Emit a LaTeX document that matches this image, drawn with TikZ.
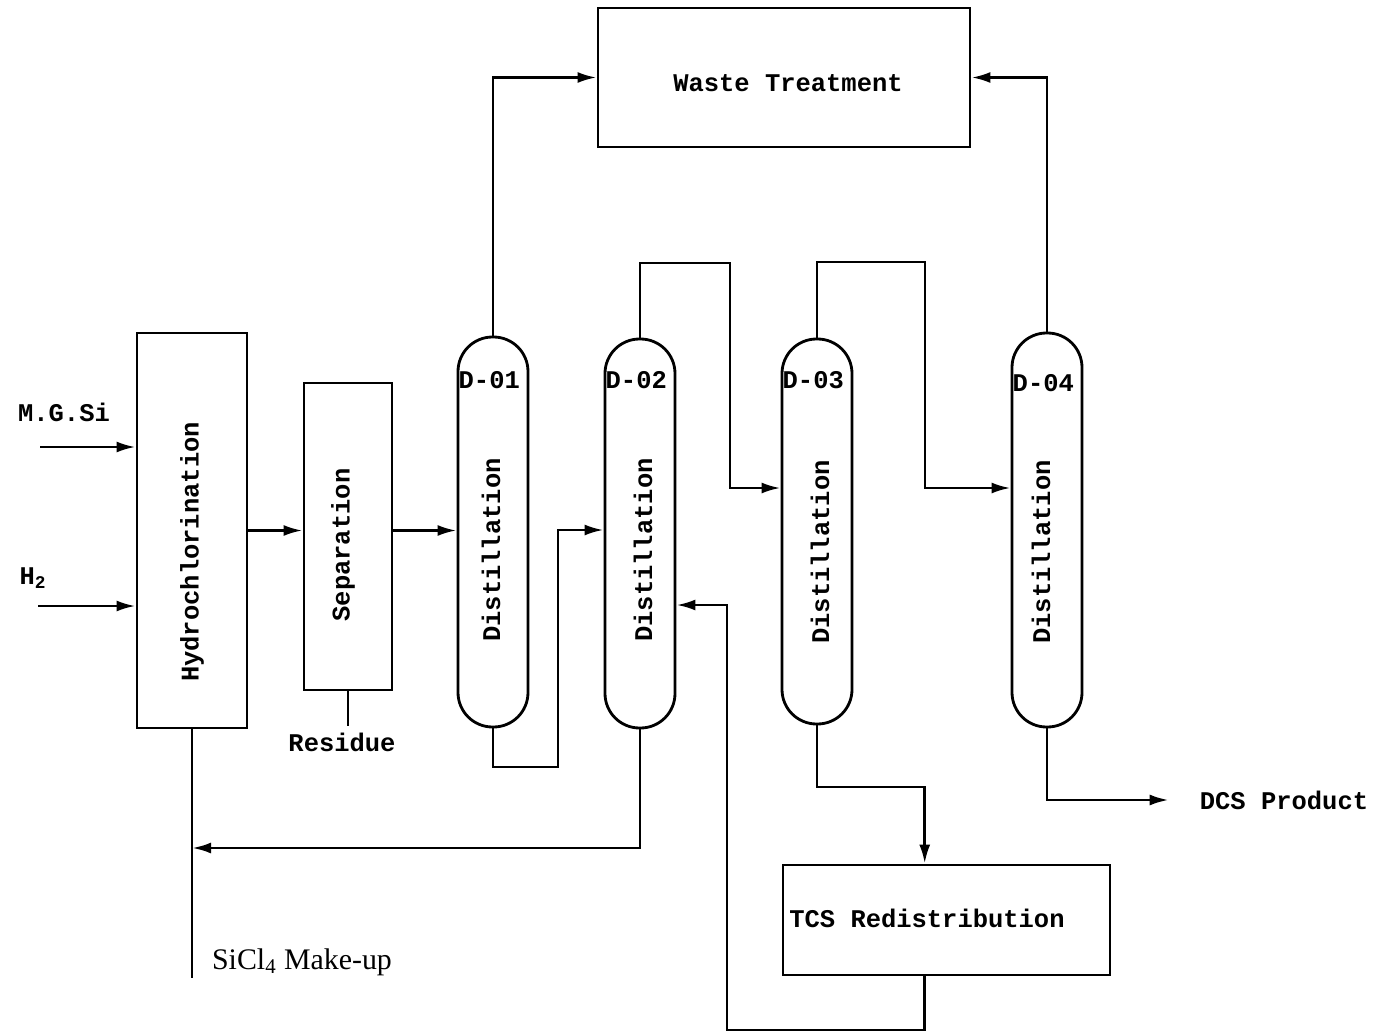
\documentclass[tikz,border=0pt]{standalone}
\usepackage{fontspec}
\setmainfont{Liberation Serif}
\setmonofont{Liberation Mono}
\usetikzlibrary{positioning, arrows.meta, calc}

\begin{document}
\begin{tikzpicture}[x=0.2mm, y=-0.2mm,
        every node/.style={font=\ttfamily\bfseries\fontsize{14.5}{17}\selectfont},
        unit/.style={rectangle, draw, line width=1.6pt, inner sep=0pt},
        column/.style={rectangle, draw, line width=1.6pt, inner sep=0pt,
          rounded corners=6.9mm, minimum width=14mm},
        vtext/.style={rotate=90},
        pipe/.style={line width=1.6pt},
        arr/.style={pipe, -{Latex[length=3.8mm, width=2.2mm]}}]

      \useasboundingbox (0,0) rectangle (1374,1035);

      % process units
      \node[unit, minimum width=74.4mm, minimum height=27.8mm] (waste) at (784,77.5) {};
      \node at (788,83) (wastetxt) {Waste Treatment};
      \node[unit, minimum width=22mm, minimum height=79mm] (hydro) at (192,530.5) {};
      \node[vtext] at (192,552) (hydrotxt) {Hydrochlorination};
      \node[unit, minimum width=17.6mm, minimum height=61.4mm] (sep) at (348,536.5) {};
      \node[vtext] at (343,545) (septxt) {Separation};
      \node[unit, minimum width=65.4mm, minimum height=22mm] (tcs) at (946.5,920) {};
      \node[anchor=west, inner sep=0pt] at (789,918) (tcstxt) {TCS Redistribution};

      % distillation columns
      \node[column, minimum height=78mm] (d1) at (493,532) {};
      \node[column, minimum height=77.8mm] (d2) at (640,533.5) {};
      \node[column, minimum height=77mm] (d3) at (817,531.5) {};
      \node[column, minimum height=78.8mm] (d4) at (1047,530) {};
      \node[anchor=west, inner sep=1pt] at (d1.west |- 0,380) (d1lab) {D-01};
      \node[anchor=west, inner sep=1pt] at (d2.west |- 0,380) (d2lab) {D-02};
      \node[anchor=west, inner sep=1pt] at (d3.west |- 0,380) (d3lab) {D-03};
      \node[anchor=west, inner sep=1pt] at (d4.west |- 0,383) (d4lab) {D-04};
      \node[vtext] at (491,550) (d1txt) {Distillation};
      \node[vtext] at (643,550) (d2txt) {Distillation};
      \node[vtext] at (820,552) (d3txt) {Distillation};
      \node[vtext] at (1041,552) (d4txt) {Distillation};

      % feeds and products
      \node at (64,412) (mgsi) {M.G.Si};
      \node at (33,578) (h2) {H\textsubscript{2}};
      \node at (342,742) (residue) {Residue};
      \node at (1284,800) (dcs) {DCS Product};
      \node[anchor=west, inner sep=1pt, font=\rmfamily\fontsize{17}{19}\selectfont]
        at (210,962) (mkup) {SiCl\textsubscript{4} Make-up};
      \coordinate (mgin) at (40,447);
      \coordinate (h2in) at (38,606);
      \coordinate (tcsin) at ($(tcs.north west)!0.434!(tcs.north east)$);
      \coordinate (tcsout) at ($(tcs.south west)!0.434!(tcs.south east)$);

      \draw[arr] (mgin) -- (mgin -| hydro.west);
      \draw[arr] (h2in) -- (h2in -| hydro.west);
      \draw[arr] (hydro.east) -- (hydro.east -| sep.west);
      \draw[arr] (sep.east |- hydro.east) -- (d1.west |- hydro.east);
      \draw[pipe] (sep.south) -- (sep.south |- residue.north);
      \draw[arr] (d1.north) |- (waste.west);
      \draw[arr] (d4.north) |- (waste.east);
      \draw[arr] (d2.north) |- (730,263) |- (d3.west |- 0,488);
      \draw[arr] (d3.north) |- (925,262) |- (d4.west |- 0,488);
      \draw[arr] (d1.south) |- (558,767) |- (d2.west |- 0,530);
      \draw[arr] (d2.south) |- (hydro.south |- 0,848);
      \draw[pipe] (hydro.south) -- (hydro.south |- mkup.south);
      \draw[arr] (d3.south) |- (tcsin |- 0,787) -- (tcsin);
      \draw[arr] (tcsout) |- (727,1030) |- (d2.east |- 0,605);
      \draw[arr, shorten >=5mm] (d4.south) |- (dcs.west);
    \end{tikzpicture}
\end{document}
